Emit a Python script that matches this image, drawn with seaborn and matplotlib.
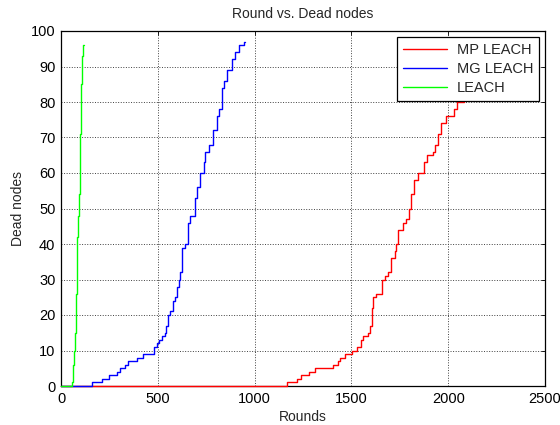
import matplotlib
matplotlib.use("Agg")
import matplotlib.pyplot as plt
import seaborn as sns
import pandas as pd

# ---- data ----
series_names = ["MP LEACH", "MG LEACH", "LEACH"]

mp_rounds = [0, 1168, 1220, 1240, 1280, 1311, 1406, 1430, 1441, 1465, 1505, 1527, 1548, 1562,
             1586, 1596, 1606, 1613, 1629, 1656, 1672, 1689, 1703, 1723, 1729, 1741, 1769, 1781,
             1798, 1810, 1824, 1844, 1876, 1893, 1919, 1931, 1945, 1965, 1991, 2031, 2045, 2080,
             2120, 2170, 2230]
mp_dead = [0, 1, 2, 3, 4, 5, 6, 7, 8, 9, 10, 11, 13, 14,
           15, 17, 22, 25, 26, 30, 31, 32, 36, 38, 40, 44, 46, 47,
           50, 54, 58, 60, 63, 65, 66, 68, 71, 74, 76, 78, 80, 84,
           88, 92, 95]

mg_rounds = [0, 159, 210, 248, 291, 305, 331, 345, 392, 426, 478, 495, 504, 521, 535, 543, 555,
             564, 581, 590, 600, 607, 616, 625, 642, 656, 668, 690, 700, 716, 737, 745, 762, 783,
             806, 818, 832, 844, 857, 883, 900, 918, 944, 950]
mg_dead = [0, 1, 2, 3, 4, 5, 6, 7, 8, 9, 11, 12, 13, 14, 15, 17, 20,
           21, 24, 25, 28, 30, 32, 39, 40, 46, 48, 53, 56, 60, 63, 66, 68, 72,
           76, 78, 84, 86, 89, 92, 94, 96, 97, 97]

leach_rounds = [0, 55, 60, 64, 68, 72, 75, 78, 81, 85, 90, 93, 98, 102, 107, 112, 117]
leach_dead = [0, 1, 3, 6, 10, 15, 21, 26, 32, 42, 48, 54, 71, 85, 93, 96, 96]

x_ticks = [0, 500, 1000, 1500, 2000, 2500]
y_ticks = [0, 10, 20, 30, 40, 50, 60, 70, 80, 90, 100]
colors = ["#ff0000", "#0000ff", "#00ff00"]

frames = []
for name, xs, ys in zip(series_names, [mp_rounds, mg_rounds, leach_rounds],
                        [mp_dead, mg_dead, leach_dead]):
    frames.append(pd.DataFrame({"Rounds": xs, "Dead nodes": ys, "Protocol": name}))
df = pd.concat(frames, ignore_index=True)

sns.set_style("white")
plt.rcParams["font.family"] = ["Liberation Sans", "DejaVu Sans"]

fig = plt.figure(figsize=(5.6, 4.25), dpi=100)
ax = fig.add_axes([61 / 560, 39 / 425, 484 / 560, 355 / 425])

sns.lineplot(data=df, x="Rounds", y="Dead nodes", hue="Protocol", hue_order=series_names,
             palette=colors, estimator=None, sort=False, drawstyle="steps-post",
             linewidth=1.0, ax=ax, zorder=3)
for ln in ax.get_lines():
    ln.set_clip_on(False)

ax.set_xlim(0, 2500)
ax.set_ylim(0, 100)
ax.set_xticks(x_ticks)
ax.set_yticks(y_ticks)
ax.tick_params(direction="in", top=True, right=True, length=3, width=0.6,
               labelsize=10.5, colors="black", pad=4)
ax.grid(True, linestyle=":", color="#404040", linewidth=0.7)
for s in ax.spines.values():
    s.set_color("black")
    s.set_linewidth(0.9)
    s.set_zorder(2.5)

ax.set_title("Round vs. Dead nodes", fontsize=10, pad=9)
ax.set_xlabel("Rounds", fontsize=10, labelpad=3)
ax.set_ylabel("Dead nodes", fontsize=10, labelpad=4)

leg = ax.legend(loc="upper right", fontsize=10.5, frameon=True, fancybox=False,
                edgecolor="black", framealpha=1, handlelength=3.0, borderaxespad=0.4,
                borderpad=0.4, labelspacing=0.35, handletextpad=0.7)
leg.get_frame().set_linewidth(0.9)
leg.set_zorder(5)

fig.savefig("out.png", dpi=100)
